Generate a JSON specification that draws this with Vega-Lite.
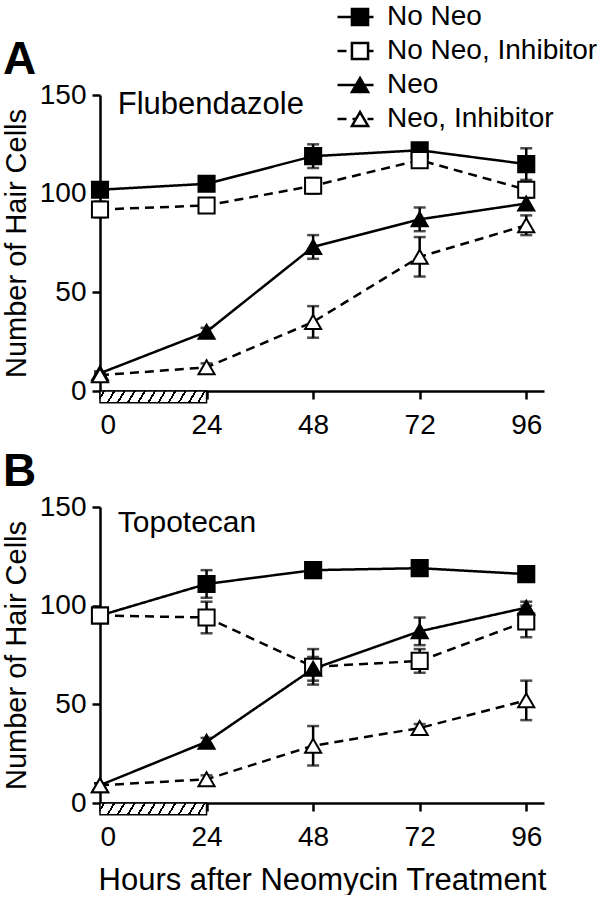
{
  "$schema": "https://vega.github.io/schema/vega-lite/v6.json",
  "padding": {"left": 2, "top": 0, "right": 0, "bottom": 0},
  "background": "white",
  "config": {
    "view": {"stroke": null},
    "font": "Liberation Sans",
    "axis": {"grid": false, "domainColor": "black", "domainWidth": 2.5, "tickColor": "black", "tickWidth": 2.5, "tickSize": 8, "labelColor": "black", "labelFontSize": 28, "labelPadding": 6, "titleColor": "black", "titleFontSize": 29, "titleFontWeight": "normal", "labelFont": "Liberation Sans", "titleFont": "Liberation Sans"},
    "axisX": {"labelPadding": 12},
    "legend": {"orient": "none", "symbolStrokeColor": "black", "symbolStrokeWidth": 2.5, "labelFontSize": 28, "labelColor": "black", "labelFont": "Liberation Sans", "labelLimit": 400, "clipHeight": 34, "rowPadding": 0},
    "title": {"font": "Liberation Sans", "color": "black"}
  },
  "datasets": {
    "pts": [
      {"panel": "A", "series": "No Neo", "hours": 0, "cells": 102, "err": 3},
      {"panel": "A", "series": "No Neo", "hours": 24, "cells": 105, "err": 2},
      {"panel": "A", "series": "No Neo", "hours": 48, "cells": 119, "err": 6},
      {"panel": "A", "series": "No Neo", "hours": 72, "cells": 122, "err": 3},
      {"panel": "A", "series": "No Neo", "hours": 96, "cells": 115, "err": 8},
      {"panel": "A", "series": "No Neo, Inhibitor", "hours": 0, "cells": 92, "err": 4},
      {"panel": "A", "series": "No Neo, Inhibitor", "hours": 24, "cells": 94, "err": 3},
      {"panel": "A", "series": "No Neo, Inhibitor", "hours": 48, "cells": 104, "err": 4},
      {"panel": "A", "series": "No Neo, Inhibitor", "hours": 72, "cells": 117, "err": 2},
      {"panel": "A", "series": "No Neo, Inhibitor", "hours": 96, "cells": 102, "err": 4},
      {"panel": "A", "series": "Neo", "hours": 0, "cells": 9, "err": 1},
      {"panel": "A", "series": "Neo", "hours": 24, "cells": 30, "err": 2},
      {"panel": "A", "series": "Neo", "hours": 48, "cells": 73, "err": 6},
      {"panel": "A", "series": "Neo", "hours": 72, "cells": 87, "err": 6},
      {"panel": "A", "series": "Neo", "hours": 96, "cells": 95, "err": 3},
      {"panel": "A", "series": "Neo, Inhibitor", "hours": 0, "cells": 8, "err": 1},
      {"panel": "A", "series": "Neo, Inhibitor", "hours": 24, "cells": 12, "err": 2},
      {"panel": "A", "series": "Neo, Inhibitor", "hours": 48, "cells": 35, "err": 8},
      {"panel": "A", "series": "Neo, Inhibitor", "hours": 72, "cells": 68, "err": 10},
      {"panel": "A", "series": "Neo, Inhibitor", "hours": 96, "cells": 84, "err": 5},
      {"panel": "B", "series": "No Neo", "hours": 0, "cells": 95, "err": 2},
      {"panel": "B", "series": "No Neo", "hours": 24, "cells": 111, "err": 7},
      {"panel": "B", "series": "No Neo", "hours": 48, "cells": 118, "err": 2},
      {"panel": "B", "series": "No Neo", "hours": 72, "cells": 119, "err": 3},
      {"panel": "B", "series": "No Neo", "hours": 96, "cells": 116, "err": 2},
      {"panel": "B", "series": "No Neo, Inhibitor", "hours": 0, "cells": 95, "err": 2},
      {"panel": "B", "series": "No Neo, Inhibitor", "hours": 24, "cells": 94, "err": 8},
      {"panel": "B", "series": "No Neo, Inhibitor", "hours": 48, "cells": 69, "err": 9},
      {"panel": "B", "series": "No Neo, Inhibitor", "hours": 72, "cells": 72, "err": 6},
      {"panel": "B", "series": "No Neo, Inhibitor", "hours": 96, "cells": 92, "err": 8},
      {"panel": "B", "series": "Neo", "hours": 0, "cells": 9, "err": 1},
      {"panel": "B", "series": "Neo", "hours": 24, "cells": 31, "err": 2},
      {"panel": "B", "series": "Neo", "hours": 48, "cells": 68, "err": 6},
      {"panel": "B", "series": "Neo", "hours": 72, "cells": 87, "err": 7},
      {"panel": "B", "series": "Neo", "hours": 96, "cells": 99, "err": 3},
      {"panel": "B", "series": "Neo, Inhibitor", "hours": 0, "cells": 9, "err": 1},
      {"panel": "B", "series": "Neo, Inhibitor", "hours": 24, "cells": 12, "err": 2},
      {"panel": "B", "series": "Neo, Inhibitor", "hours": 48, "cells": 29, "err": 10},
      {"panel": "B", "series": "Neo, Inhibitor", "hours": 72, "cells": 38, "err": 2},
      {"panel": "B", "series": "Neo, Inhibitor", "hours": 96, "cells": 52, "err": 10}
    ]
  },
  "spacing": 10,
  "resolve": {
    "scale": {"x": "independent", "y": "independent", "shape": "independent", "fill": "independent", "stroke": "independent", "strokeDash": "independent"},
    "legend": {"shape": "independent", "fill": "independent", "stroke": "independent", "strokeDash": "independent"}
  },
  "vconcat": [
    {
      "width": 444,
      "height": 296,
      "title": {"text": "A", "anchor": "start", "frame": "group", "fontSize": 46, "fontWeight": "bold", "dx": -97, "offset": -84},
      "data": {"name": "pts"},
      "transform": [{"filter": "datum.panel === 'A'"}],
      "layer": [
        {
          "data": {"values": [{"start": 0, "end": 24}]},
          "mark": {"type": "rect", "stroke": "black", "strokeWidth": 1.5,
            "fill": {"gradient": "linear", "x1": 0, "y1": 0, "x2": 1, "y2": 0.066, "stops": [
              {"offset": 0, "color": "white"}, {"offset": 0.03, "color": "white"}, {"offset": 0.03, "color": "black"}, {"offset": 0.05, "color": "black"}, {"offset": 0.05, "color": "white"},
              {"offset": 0.125, "color": "white"}, {"offset": 0.125, "color": "black"}, {"offset": 0.145, "color": "black"}, {"offset": 0.145, "color": "white"},
              {"offset": 0.22, "color": "white"}, {"offset": 0.22, "color": "black"}, {"offset": 0.24, "color": "black"}, {"offset": 0.24, "color": "white"},
              {"offset": 0.315, "color": "white"}, {"offset": 0.315, "color": "black"}, {"offset": 0.335, "color": "black"}, {"offset": 0.335, "color": "white"},
              {"offset": 0.41, "color": "white"}, {"offset": 0.41, "color": "black"}, {"offset": 0.43, "color": "black"}, {"offset": 0.43, "color": "white"},
              {"offset": 0.505, "color": "white"}, {"offset": 0.505, "color": "black"}, {"offset": 0.525, "color": "black"}, {"offset": 0.525, "color": "white"},
              {"offset": 0.6, "color": "white"}, {"offset": 0.6, "color": "black"}, {"offset": 0.62, "color": "black"}, {"offset": 0.62, "color": "white"},
              {"offset": 0.695, "color": "white"}, {"offset": 0.695, "color": "black"}, {"offset": 0.715, "color": "black"}, {"offset": 0.715, "color": "white"},
              {"offset": 0.79, "color": "white"}, {"offset": 0.79, "color": "black"}, {"offset": 0.81, "color": "black"}, {"offset": 0.81, "color": "white"},
              {"offset": 0.885, "color": "white"}, {"offset": 0.885, "color": "black"}, {"offset": 0.905, "color": "black"}, {"offset": 0.905, "color": "white"},
              {"offset": 0.97, "color": "white"}, {"offset": 0.97, "color": "black"}, {"offset": 0.99, "color": "black"}, {"offset": 0.99, "color": "white"}, {"offset": 1, "color": "white"}]}},
          "encoding": {
            "x": {"field": "start", "type": "quantitative", "scale": {"domain": [0, 100], "nice": false}, "axis": {"values": [0, 24, 48, 72, 96], "title": null}},
            "x2": {"field": "end"},
            "y": {"datum": 0, "type": "quantitative", "scale": {"domain": [0, 150], "nice": false}, "axis": {"values": [0, 50, 100, 150], "title": "Number of Hair Cells", "titlePadding": 8}},
            "y2": {"datum": -6}
          }
        },
        {
          "mark": {"type": "line", "color": "black", "strokeWidth": 2.5},
          "encoding": {
            "x": {"field": "hours", "type": "quantitative", "title": null},
            "y": {"field": "cells", "type": "quantitative", "title": "Number of Hair Cells"},
            "detail": {"field": "series"},
            "strokeDash": {"field": "series", "type": "nominal", "sort": ["No Neo", "No Neo, Inhibitor", "Neo", "Neo, Inhibitor"], "scale": {"range": [[1, 0], [9, 6], [1, 0], [9, 6]]},
              "legend": {"title": null, "symbolType": "stroke", "symbolSize": 1296, "labelExpr": "''", "labelOffset": 0, "legendX": 236, "legendY": -95, "symbolStrokeWidth": 2.5}}
          }
        },
        {
          "mark": {"type": "errorbar", "color": "black", "ticks": {"size": 12, "thickness": 2.5, "color": "black"}, "rule": {"strokeWidth": 2.5, "color": "black"}},
          "encoding": {
            "x": {"field": "hours", "type": "quantitative", "title": null},
            "y": {"field": "cells", "type": "quantitative", "title": "Number of Hair Cells"},
            "yError": {"field": "err"}
          }
        },
        {
          "mark": {"type": "point", "stroke": "black", "strokeWidth": 2, "opacity": 1, "fillOpacity": 1, "size": 260},
          "encoding": {
            "x": {"field": "hours", "type": "quantitative", "title": null},
            "y": {"field": "cells", "type": "quantitative", "title": "Number of Hair Cells"},
            "shape": {"field": "series", "type": "nominal", "scale": {"domain": ["No Neo", "No Neo, Inhibitor", "Neo", "Neo, Inhibitor"], "range": ["square", "square", "triangle-up", "triangle-up"]},
              "legend": {"title": null, "symbolSize": 260, "labelOffset": 13, "legendX": 246, "legendY": -95}},
            "fill": {"field": "series", "type": "nominal", "scale": {"domain": ["No Neo", "No Neo, Inhibitor", "Neo", "Neo, Inhibitor"], "range": ["black", "white", "black", "white"]},
              "legend": {"title": null, "symbolSize": 260, "labelOffset": 13, "legendX": 246, "legendY": -95}},
            "stroke": {"field": "series", "type": "nominal", "scale": {"domain": ["No Neo", "No Neo, Inhibitor", "Neo", "Neo, Inhibitor"], "range": ["black", "black", "black", "black"]},
              "legend": {"title": null, "symbolSize": 260, "labelOffset": 13, "legendX": 246, "legendY": -95}}
          }
        },
        {
          "data": {"values": [{"label": "Flubendazole"}]},
          "mark": {"type": "text", "align": "left", "baseline": "middle", "fontSize": 31, "font": "Liberation Sans", "color": "black"},
          "encoding": {"x": {"datum": 4}, "y": {"datum": 145}, "text": {"field": "label"}}
        }
      ]
    },
    {
      "width": 444,
      "height": 296,
      "title": {"text": "B", "anchor": "start", "frame": "group", "fontSize": 46, "fontWeight": "bold", "dx": -97, "offset": -3},
      "data": {"name": "pts"},
      "transform": [{"filter": "datum.panel === 'B'"}],
      "layer": [
        {
          "data": {"values": [{"start": 0, "end": 24}]},
          "mark": {"type": "rect", "stroke": "black", "strokeWidth": 1.5,
            "fill": {"gradient": "linear", "x1": 0, "y1": 0, "x2": 1, "y2": 0.066, "stops": [
              {"offset": 0, "color": "white"}, {"offset": 0.03, "color": "white"}, {"offset": 0.03, "color": "black"}, {"offset": 0.05, "color": "black"}, {"offset": 0.05, "color": "white"},
              {"offset": 0.125, "color": "white"}, {"offset": 0.125, "color": "black"}, {"offset": 0.145, "color": "black"}, {"offset": 0.145, "color": "white"},
              {"offset": 0.22, "color": "white"}, {"offset": 0.22, "color": "black"}, {"offset": 0.24, "color": "black"}, {"offset": 0.24, "color": "white"},
              {"offset": 0.315, "color": "white"}, {"offset": 0.315, "color": "black"}, {"offset": 0.335, "color": "black"}, {"offset": 0.335, "color": "white"},
              {"offset": 0.41, "color": "white"}, {"offset": 0.41, "color": "black"}, {"offset": 0.43, "color": "black"}, {"offset": 0.43, "color": "white"},
              {"offset": 0.505, "color": "white"}, {"offset": 0.505, "color": "black"}, {"offset": 0.525, "color": "black"}, {"offset": 0.525, "color": "white"},
              {"offset": 0.6, "color": "white"}, {"offset": 0.6, "color": "black"}, {"offset": 0.62, "color": "black"}, {"offset": 0.62, "color": "white"},
              {"offset": 0.695, "color": "white"}, {"offset": 0.695, "color": "black"}, {"offset": 0.715, "color": "black"}, {"offset": 0.715, "color": "white"},
              {"offset": 0.79, "color": "white"}, {"offset": 0.79, "color": "black"}, {"offset": 0.81, "color": "black"}, {"offset": 0.81, "color": "white"},
              {"offset": 0.885, "color": "white"}, {"offset": 0.885, "color": "black"}, {"offset": 0.905, "color": "black"}, {"offset": 0.905, "color": "white"},
              {"offset": 0.97, "color": "white"}, {"offset": 0.97, "color": "black"}, {"offset": 0.99, "color": "black"}, {"offset": 0.99, "color": "white"}, {"offset": 1, "color": "white"}]}},
          "encoding": {
            "x": {"field": "start", "type": "quantitative", "scale": {"domain": [0, 100], "nice": false}, "axis": {"values": [0, 24, 48, 72, 96], "title": "Hours after Neomycin Treatment", "titlePadding": 14, "titleFontSize": 31}},
            "x2": {"field": "end"},
            "y": {"datum": 0, "type": "quantitative", "scale": {"domain": [0, 150], "nice": false}, "axis": {"values": [0, 50, 100, 150], "title": "Number of Hair Cells", "titlePadding": 8}},
            "y2": {"datum": -6}
          }
        },
        {
          "mark": {"type": "line", "color": "black", "strokeWidth": 2.5},
          "encoding": {
            "x": {"field": "hours", "type": "quantitative", "title": "Hours after Neomycin Treatment"},
            "y": {"field": "cells", "type": "quantitative", "title": "Number of Hair Cells"},
            "detail": {"field": "series"},
            "strokeDash": {"field": "series", "type": "nominal", "scale": {"domain": ["No Neo", "No Neo, Inhibitor", "Neo", "Neo, Inhibitor"], "range": [[1, 0], [9, 6], [1, 0], [9, 6]]}, "legend": null}
          }
        },
        {
          "mark": {"type": "errorbar", "color": "black", "ticks": {"size": 12, "thickness": 2.5, "color": "black"}, "rule": {"strokeWidth": 2.5, "color": "black"}},
          "encoding": {
            "x": {"field": "hours", "type": "quantitative", "title": "Hours after Neomycin Treatment"},
            "y": {"field": "cells", "type": "quantitative", "title": "Number of Hair Cells"},
            "yError": {"field": "err"}
          }
        },
        {
          "mark": {"type": "point", "stroke": "black", "strokeWidth": 2, "opacity": 1, "fillOpacity": 1, "size": 260},
          "encoding": {
            "x": {"field": "hours", "type": "quantitative", "title": "Hours after Neomycin Treatment"},
            "y": {"field": "cells", "type": "quantitative", "title": "Number of Hair Cells"},
            "shape": {"field": "series", "type": "nominal", "scale": {"domain": ["No Neo", "No Neo, Inhibitor", "Neo", "Neo, Inhibitor"], "range": ["square", "square", "triangle-up", "triangle-up"]}, "legend": null},
            "fill": {"field": "series", "type": "nominal", "scale": {"domain": ["No Neo", "No Neo, Inhibitor", "Neo", "Neo, Inhibitor"], "range": ["black", "white", "black", "white"]}, "legend": null}
          }
        },
        {
          "data": {"values": [{"label": "Topotecan"}]},
          "mark": {"type": "text", "align": "left", "baseline": "middle", "fontSize": 30, "font": "Liberation Sans", "color": "black"},
          "encoding": {"x": {"datum": 4}, "y": {"datum": 142}, "text": {"field": "label"}}
        }
      ]
    }
  ]
}
